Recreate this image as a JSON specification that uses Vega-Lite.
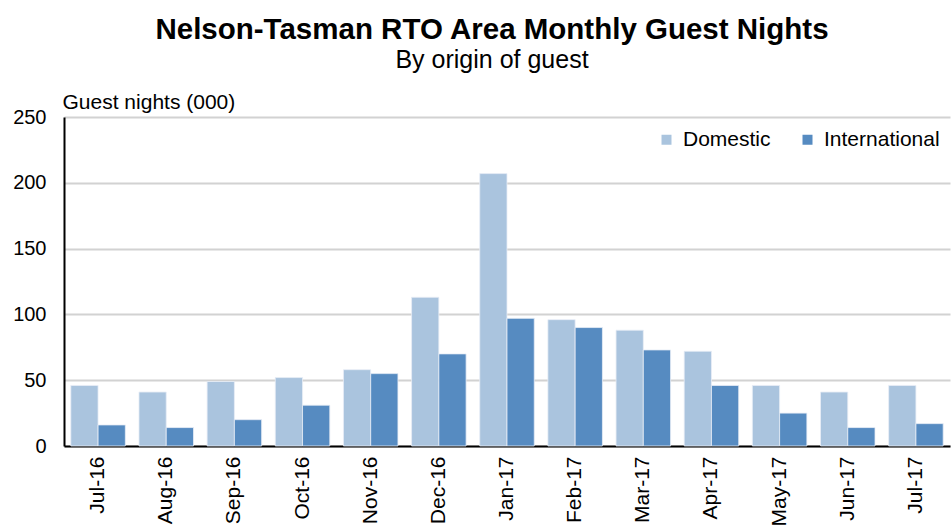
{
  "$schema": "https://vega.github.io/schema/vega-lite/v6.json",
  "autosize": "none",
  "width": 886,
  "height": 329,
  "padding": {"left": 64, "top": 117, "right": 2, "bottom": 86},
  "background": "white",
  "title": {
    "text": "Nelson-Tasman RTO Area Monthly Guest Nights",
    "subtitle": "By origin  of guest",
    "font": "Liberation Sans",
    "fontSize": 29.5,
    "fontWeight": "bold",
    "color": "#000000",
    "subtitleFont": "Liberation Sans",
    "subtitleFontSize": 25,
    "subtitleColor": "#000000",
    "subtitlePadding": 3,
    "anchor": "middle",
    "dx": -15,
    "offset": 17
  },
  "data": {
    "values": [
      {"month": "Jul-16", "origin": "Domestic", "nights": 46},
      {"month": "Jul-16", "origin": "International", "nights": 16},
      {"month": "Aug-16", "origin": "Domestic", "nights": 41},
      {"month": "Aug-16", "origin": "International", "nights": 14},
      {"month": "Sep-16", "origin": "Domestic", "nights": 49},
      {"month": "Sep-16", "origin": "International", "nights": 20},
      {"month": "Oct-16", "origin": "Domestic", "nights": 52},
      {"month": "Oct-16", "origin": "International", "nights": 31},
      {"month": "Nov-16", "origin": "Domestic", "nights": 58},
      {"month": "Nov-16", "origin": "International", "nights": 55},
      {"month": "Dec-16", "origin": "Domestic", "nights": 113},
      {"month": "Dec-16", "origin": "International", "nights": 70},
      {"month": "Jan-17", "origin": "Domestic", "nights": 207},
      {"month": "Jan-17", "origin": "International", "nights": 97},
      {"month": "Feb-17", "origin": "Domestic", "nights": 96},
      {"month": "Feb-17", "origin": "International", "nights": 90},
      {"month": "Mar-17", "origin": "Domestic", "nights": 88},
      {"month": "Mar-17", "origin": "International", "nights": 73},
      {"month": "Apr-17", "origin": "Domestic", "nights": 72},
      {"month": "Apr-17", "origin": "International", "nights": 46},
      {"month": "May-17", "origin": "Domestic", "nights": 46},
      {"month": "May-17", "origin": "International", "nights": 25},
      {"month": "Jun-17", "origin": "Domestic", "nights": 41},
      {"month": "Jun-17", "origin": "International", "nights": 14},
      {"month": "Jul-17", "origin": "Domestic", "nights": 46},
      {"month": "Jul-17", "origin": "International", "nights": 17}
    ]
  },
  "mark": {"type": "bar", "stroke": "#e8eef6", "strokeWidth": 0.8},
  "encoding": {
    "x": {
      "field": "month",
      "type": "nominal",
      "sort": null,
      "scale": {"paddingInner": 0.2, "paddingOuter": 0.1},
      "axis": {
        "title": null,
        "labelAngle": -90,
        "labelFont": "Liberation Sans",
        "labelFontSize": 21,
        "labelColor": "#000000",
        "labelPadding": 10,
        "ticks": false,
        "domainColor": "#000000",
        "domainWidth": 2,
        "grid": false
      }
    },
    "xOffset": {"field": "origin", "type": "nominal", "scale": {"paddingInner": 0, "paddingOuter": 0}},
    "y": {
      "field": "nights",
      "type": "quantitative",
      "scale": {"domain": [0, 250], "nice": false},
      "axis": {
        "title": "Guest nights (000)",
        "titleAngle": 0,
        "titleAlign": "left",
        "titleBaseline": "alphabetic",
        "titleX": -2,
        "titleY": -9,
        "titleFont": "Liberation Sans",
        "titleFontSize": 21,
        "titleFontWeight": "normal",
        "titleColor": "#000000",
        "values": [0, 50, 100, 150, 200, 250],
        "labelFont": "Liberation Sans",
        "labelFontSize": 20,
        "labelColor": "#000000",
        "labelPadding": 18,
        "ticks": false,
        "domainColor": "#000000",
        "domainWidth": 2,
        "gridColor": "#d2d2d2",
        "gridWidth": 2
      }
    },
    "color": {
      "field": "origin",
      "type": "nominal",
      "scale": {"domain": ["Domestic", "International"], "range": ["#aac4de", "#568bc1"]},
      "legend": {
        "title": null,
        "orient": "none",
        "direction": "horizontal",
        "legendX": 592,
        "legendY": 12,
        "symbolType": "square",
        "symbolSize": 100,
        "symbolStrokeWidth": 0,
        "labelFont": "Liberation Sans",
        "labelFontSize": 21,
        "labelColor": "#000000",
        "labelOffset": 6,
        "columnPadding": 26
      }
    }
  },
  "config": {"view": {"stroke": null}}
}
